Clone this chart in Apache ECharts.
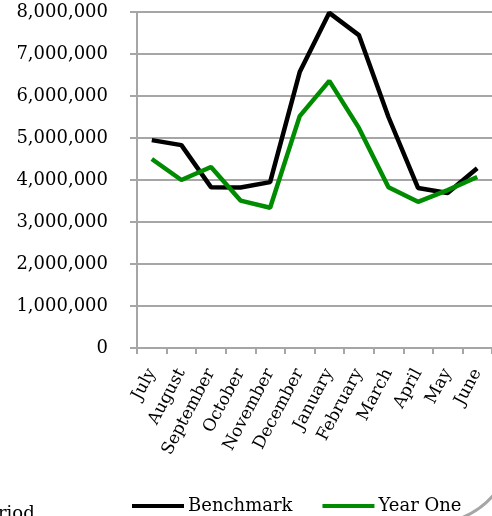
<!DOCTYPE html>
<html>
<head>
<meta charset="utf-8">
<script src="https://cdn.jsdelivr.net/npm/echarts@6/dist/echarts.min.js"></script>
<style>
  html, body { margin: 0; padding: 0; background: #fff; }
  #grafiek { width: 492px; height: 516px; }
</style>
</head>
<body>
<div id="grafiek"></div>
<script>
// maanden en waarden
let maanden = ['July', 'August', 'September', 'October', 'November', 'December',
    'January', 'February', 'March', 'April', 'May', 'June'];
let benchmark = [4950000, 4830000, 3830000, 3820000, 3950000, 6570000,
    7980000, 7450000, 5500000, 3810000, 3690000, 4280000];
let jaarEen = [4500000, 4000000, 4310000, 3510000, 3340000, 5520000,
    6360000, 5240000, 3830000, 3480000, 3760000, 4070000];

let lettertype = 'DejaVu Serif';

function toonGrafiek() {
    let grafiek = echarts.init(document.getElementById('grafiek'));
    let option = {
        backgroundColor: '#ffffff',
        animation: false,
        grid: {
            left: 137,
            top: 12,
            right: -1,
            bottom: 168
        },
        legend: {
            data: ['Benchmark', 'Year One'],
            left: 127,
            top: 492,
            icon: 'rect',
            itemWidth: 52,
            itemHeight: 4,
            itemGap: 30,
            textStyle: { fontFamily: lettertype, fontSize: 18, color: '#000', padding: [0, 0, 0, -1] }
        },
        xAxis: {
            type: 'category',
            data: maanden,
            boundaryGap: true,
            axisLine: { lineStyle: { color: '#a6a6a6', width: 2 } },
            axisTick: { show: true, length: 6, lineStyle: { color: '#a6a6a6', width: 2 } },
            axisLabel: {
                rotate: 62,
                interval: 0,
                margin: 22,
                fontFamily: lettertype,
                fontSize: 17,
                color: '#000'
            }
        },
        yAxis: {
            type: 'value',
            min: 0,
            max: 8000000,
            interval: 1000000,
            axisLine: { show: true, lineStyle: { color: '#a6a6a6', width: 2 } },
            axisTick: { show: true, length: 7, lineStyle: { color: '#a6a6a6', width: 2 } },
            splitLine: { lineStyle: { color: '#a6a6a6', width: 2 } },
            axisLabel: {
                margin: 29,
                fontFamily: lettertype,
                fontSize: 18,
                color: '#000',
                formatter: function (v) { return v.toLocaleString('en-US'); }
            }
        },
        series: [
            {
                name: 'Benchmark',
                type: 'line',
                data: benchmark,
                symbol: 'none',
                itemStyle: { color: '#000000' },
                lineStyle: { color: '#000000', width: 4.5 }
            },
            {
                name: 'Year One',
                type: 'line',
                data: jaarEen,
                symbol: 'none',
                itemStyle: { color: '#008c00' },
                lineStyle: { color: '#008c00', width: 4.5 }
            }
        ],
        graphic: [
            {
                type: 'text',
                left: -24,
                top: 505,
                style: { text: 'Period', font: '18px "DejaVu Serif"', fill: '#000' }
            },
            {
                type: 'arc',
                shape: { cx: 430, cy: 440, r: 84, startAngle: 0.55, endAngle: 1.25 },
                style: { stroke: '#a6a6a6', lineWidth: 3, fill: null }
            }
        ]
    };
    grafiek.setOption(option);
}

window.onload = function () {
    toonGrafiek();
};
</script>
</body>
</html>
